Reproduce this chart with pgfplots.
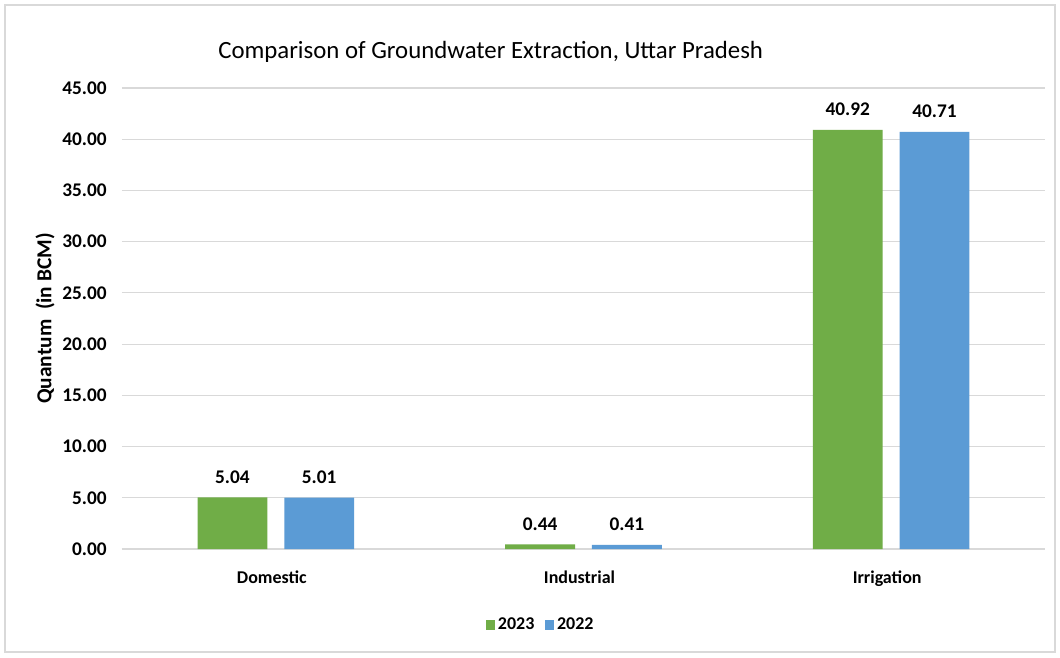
\documentclass[border=0pt]{standalone}
\usepackage{pgfplots}
\pgfplotsset{compat=1.18}
\usepackage{fontspec}
\setmainfont{Carlito}
\definecolor{g23}{HTML}{70AD47}
\definecolor{b22}{HTML}{5B9BD5}
\definecolor{gridc}{HTML}{D9D9D9}
\begin{document}
\begin{tikzpicture}
\path[use as bounding box] (0,0) rectangle (795pt,492.75pt);
\draw[gridc, line width=0.8pt, fill=white] (3.75pt,3.75pt) rectangle (791.25pt,489pt);
\node[font=\fontsize{18.6}{22}\selectfont] at (368pt,453.75pt) {Comparison of Groundwater Extraction, Uttar Pradesh};
\begin{axis}[
  at={(91.5pt,81pt)}, anchor=south west,
  scale only axis, width=692.25pt, height=345.75pt,
  ymin=0, ymax=45, ytick={0,5,...,45},
  xmin=-0.5, xmax=2.5, xtick={0,1,2},
  xticklabels={Domestic,Industrial,Irrigation},
  axis line style={draw=none},
  major tick length=0pt,
  ymajorgrids, grid style={gridc, line width=0.8pt},
  extra y ticks={0}, extra y tick labels={},
  extra y tick style={grid style={gridc, line width=1pt}},
  /pgf/number format/assume math mode=true,
  yticklabel style={font=\fontsize{14.5}{17}\selectfont\bfseries, /pgf/number format/fixed, /pgf/number format/fixed zerofill, /pgf/number format/precision=2, xshift=-8pt},
  xticklabel style={font=\fontsize{13.5}{16}\selectfont\bfseries, yshift=-13pt, xshift=-3pt},
  ylabel={Quantum~~(in BCM)},
  ylabel style={font=\fontsize{16}{19}\selectfont\bfseries, at={(axis description cs:0,0.5)}, anchor=center, yshift=57.75pt},
  ybar, bar width=0.227,
  nodes near coords,
  nodes near coords style={font=\fontsize{14.5}{17}\selectfont\bfseries, /pgf/number format/fixed, /pgf/number format/fixed zerofill, /pgf/number format/precision=2, yshift=7pt, text=black},
  legend style={at={(0.454,-0.165)}, anchor=center, legend columns=-1, draw=none, font=\fontsize{13.5}{16}\selectfont\bfseries, /tikz/every even column/.append style={column sep=6pt}},
  legend image code/.code={\fill[#1] (0pt,-3.5pt) rectangle (7pt,3.5pt);},
  clip=false,
]
\addplot[fill=g23, draw=none, bar shift=-0.141] coordinates {(0,5.04) (1,0.44) (2,40.92)};
\addplot[fill=b22, draw=none, bar shift=0.141] coordinates {(0,5.01) (1,0.41) (2,40.71)};
\legend{2023,2022}
\end{axis}
\end{tikzpicture}
\end{document}
